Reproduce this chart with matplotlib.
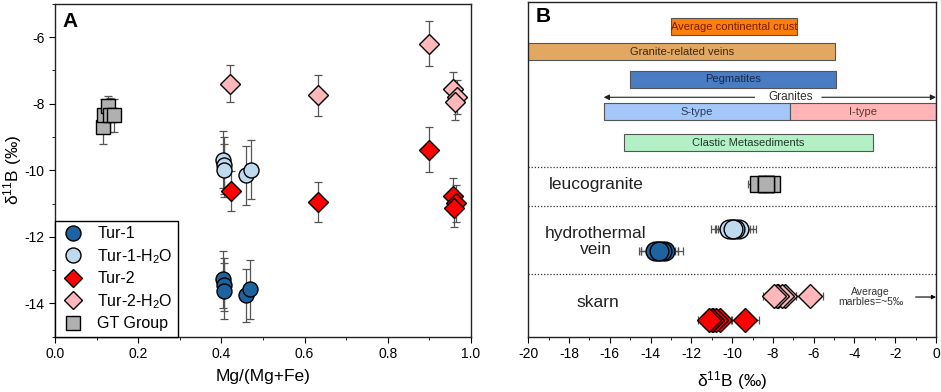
import matplotlib
matplotlib.use("Agg")
import matplotlib.pyplot as plt
from matplotlib.lines import Line2D

plt.rcParams['font.family'] = ['Liberation Sans', 'DejaVu Sans']
plt.rcParams['mathtext.fontset'] = 'custom'
plt.rcParams['mathtext.rm'] = 'Liberation Sans'
plt.rcParams['mathtext.it'] = 'Liberation Sans:italic'
plt.rcParams['mathtext.bf'] = 'Liberation Sans:bold'
plt.rcParams['axes.unicode_minus'] = False

# ---------------- data ----------------
tur1_x = [0.404, 0.407, 0.406, 0.459, 0.470]
tur1_y = [-13.28, -13.44, -13.63, -13.76, -13.58]
tur1_err = [0.85, 0.80, 0.85, 0.80, 0.90]

tur1h_x = [0.405, 0.406, 0.406, 0.460, 0.472]
tur1h_y = [-9.68, -9.85, -10.00, -10.15, -9.98]
tur1h_err = [0.85, 0.85, 0.80, 0.88, 0.88]

tur2_x = [0.423, 0.633, 0.899, 0.957, 0.963, 0.959]
tur2_y = [-10.62, -10.95, -9.38, -10.77, -10.99, -11.14]
tur2_err = [0.60, 0.60, 0.68, 0.55, 0.55, 0.55]

tur2h_x = [0.421, 0.633, 0.899, 0.957, 0.967, 0.962]
tur2h_y = [-7.40, -7.75, -6.20, -7.55, -7.80, -7.95]
tur2h_err = [0.55, 0.62, 0.68, 0.50, 0.50, 0.55]

gt_x = [0.116, 0.118, 0.127, 0.133, 0.142]
gt_y = [-8.71, -8.35, -8.06, -8.34, -8.35]
gt_err = [0.50, 0.50, 0.30, 0.50, 0.50]

range_labels = ["Average continental crust", "Granite-related veins", "Pegmatites",
                "S-type", "I-type", "Clastic Metasediments"]
range_lo = [-13.0, -20.5, -15.0, -16.3, -7.15, -15.3]
range_hi = [-6.8, -4.95, -4.9, -7.15, 0.0, -3.1]
range_colors = ["#fb7f0a", "#e2a862", "#4a7cc4", "#a3c7f8", "#ffb5b5", "#b4f0c6"]
range_text_colors = ["#7a1d00", "#3b2a15", "#1a2a4a", "#2b3b5a", "#5a3535", "#1f3a2a"]
range_rows = [25, 49.7, 77.3, 110, 110, 141]

granite_range = [-16.3, 0.0]

row_labels = ["leucogranite", "hydrothermal\nvein", "skarn"]

# colours
c_tur1 = "#1c63a0"
c_tur1h = "#bfd9ef"
c_tur2 = "#ff0000"
c_tur2h = "#ffb7ba"
c_gt = "#b0b0b0"
c_err = "#555555"

fig = plt.figure(figsize=(9.41, 3.92), dpi=100)

# ---------------- panel A ----------------
axA = fig.add_axes([0.0584, 0.141, 0.4421, 0.849])

series = [
    (gt_x, gt_y, gt_err, 's', c_gt, 10),
    (tur1_x, tur1_y, tur1_err, 'o', c_tur1, 10.8),
    (tur1h_x, tur1h_y, tur1h_err, 'o', c_tur1h, 10.8),
    (tur2h_x, tur2h_y, tur2h_err, 'D', c_tur2h, 9.8),
    (tur2_x, tur2_y, tur2_err, 'D', c_tur2, 9.8),
]
for xs, ys, es, m, c, ms in series:
    axA.errorbar(xs, ys, yerr=es, fmt='none', ecolor=c_err, elinewidth=0.9,
                 capsize=3, capthick=0.9, zorder=2)
for xs, ys, es, m, c, ms in series:
    axA.plot(xs, ys, linestyle='none', marker=m, markersize=ms,
             markerfacecolor=c, markeredgecolor='black', markeredgewidth=1.0, zorder=3)

axA.set_xlim(0, 1.0)
axA.set_ylim(-15, -5.05)
axA.set_xticks([0.0, 0.2, 0.4, 0.6, 0.8, 1.0])
axA.set_xticks([0.1, 0.3, 0.5, 0.7, 0.9], minor=True)
axA.set_xticklabels(["0.0", "0.2", "0.4", "0.6", "0.8", "1.0"])
axA.set_yticks([-14, -12, -10, -8, -6])
axA.set_yticks([-15, -13, -11, -9, -7, -5], minor=True)
axA.tick_params(which='both', direction='out', labelsize=10)
axA.tick_params(which='major', length=4)
axA.tick_params(which='minor', length=2.5)
axA.set_xlabel("Mg/(Mg+Fe)", fontsize=12.5, labelpad=6)
axA.set_ylabel(r"δ$^{11}$B (‰)", fontsize=12.5, va='center')
axA.yaxis.set_label_coords(-0.102, 0.5)
axA.text(0.018, 0.975, "A", transform=axA.transAxes, fontsize=15,
         fontweight='bold', ha='left', va='top')

handles = [
    Line2D([], [], linestyle='none', marker='o', markersize=10.8, markerfacecolor=c_tur1, markeredgecolor='black'),
    Line2D([], [], linestyle='none', marker='o', markersize=10.8, markerfacecolor=c_tur1h, markeredgecolor='black'),
    Line2D([], [], linestyle='none', marker='D', markersize=9.5, markerfacecolor=c_tur2, markeredgecolor='black'),
    Line2D([], [], linestyle='none', marker='D', markersize=9.5, markerfacecolor=c_tur2h, markeredgecolor='black'),
    Line2D([], [], linestyle='none', marker='s', markersize=10, markerfacecolor=c_gt, markeredgecolor='black'),
]
labels = ["Tur-1", "Tur-1-H$_2$O", "Tur-2", "Tur-2-H$_2$O", "GT Group"]
leg = axA.legend(handles, labels, loc='lower left', borderaxespad=0, fontsize=11.5,
                 frameon=True, fancybox=False, edgecolor='black', framealpha=1,
                 handletextpad=0.8, labelspacing=0.35, borderpad=0.35, handlelength=1.5)
leg.get_frame().set_linewidth(1.0)

# ---------------- panel B ----------------
axB = fig.add_axes([0.5614, 0.141, 0.4333, 0.854])
axB.set_xlim(-20, 0)
axB.set_ylim(334.7, 0)

bar_h = 17
for lab, lo, hi, col, tc, yy in zip(range_labels, range_lo, range_hi, range_colors,
                                     range_text_colors, range_rows):
    axB.barh(yy, hi - lo, left=lo, height=bar_h, color=col, edgecolor='#555555',
             linewidth=0.8, zorder=2)
    axB.text((max(lo, -20) + hi) / 2, yy, lab, ha='center', va='center',
             fontsize=8, color=tc, zorder=3)

# Granites arrows
gy = 95.3
gmid = -7.15
axB.text(gmid, gy, "Granites", ha='center', va='center', fontsize=8.5, color='#333333')
axB.annotate("", xy=(granite_range[0], gy), xytext=(gmid - 1.75, gy),
             arrowprops=dict(arrowstyle='-|>', color='#222222', lw=0.8,
                             shrinkA=0, shrinkB=0, mutation_scale=8))
axB.annotate("", xy=(granite_range[1], gy), xytext=(gmid + 1.55, gy),
             arrowprops=dict(arrowstyle='-|>', color='#222222', lw=0.8,
                             shrinkA=0, shrinkB=0, mutation_scale=8))

# dotted separators
for yy in [164.7, 204, 272]:
    axB.axhline(yy, color='#333333', linestyle=(0, (1, 1.5)), linewidth=0.9, zorder=1)

# row labels
axB.text(-19.0, 183, row_labels[0], ha='left', va='center', fontsize=12.5, color='#222222')
axB.text(-16.7, 239.3, row_labels[1], ha='center', va='center', fontsize=12.5,
         color='#222222', linespacing=1.05)
axB.text(-16.6, 300.7, row_labels[2], ha='center', va='center', fontsize=12.5, color='#222222')

rowsB = [
    (gt_y, gt_err, 's', c_gt, 11.5, 182),
    (tur1h_y, tur1h_err, 'o', c_tur1h, 13.5, 227.3),
    (tur1_y, tur1_err, 'o', c_tur1, 13.5, 248.7),
    (tur2h_y, tur2h_err, 'D', c_tur2h, 12.5, 294),
    (tur2_y, tur2_err, 'D', c_tur2, 12.5, 318),
]
for vals, errs, m, c, ms, yy in rowsB:
    ys = [yy] * len(vals)
    axB.errorbar(vals, ys, xerr=errs, fmt='none', ecolor=c_err, elinewidth=0.9,
                 capsize=3, capthick=0.9, zorder=2)
for vals, errs, m, c, ms, yy in rowsB:
    ys = [yy] * len(vals)
    axB.plot(vals, ys, linestyle='none', marker=m, markersize=ms,
             markerfacecolor=c, markeredgecolor='black', markeredgewidth=1.0, zorder=3)

# marbles annotation
axB.text(-3.2, 295, "Average\nmarbles=~5‰", ha='center', va='center', fontsize=7.5,
         color='#333333', linespacing=1.0)
axB.annotate("", xy=(0, 295), xytext=(-1.0, 295),
             arrowprops=dict(arrowstyle='-|>', color='black', lw=0.8,
                             shrinkA=0, shrinkB=0, mutation_scale=6))

axB.set_xticks(list(range(-20, 1, 2)))
axB.set_xticks(list(range(-19, 0, 2)), minor=True)
axB.set_yticks([])
axB.tick_params(which='both', direction='out', labelsize=10)
axB.tick_params(which='major', length=4)
axB.tick_params(which='minor', length=2.5)
axB.set_xlabel(r"δ$^{11}$B (‰)", fontsize=12.5, labelpad=6)
axB.text(0.018, 0.985, "B", transform=axB.transAxes, fontsize=15,
         fontweight='bold', ha='left', va='top')

for ax in (axA, axB):
    for s in ax.spines.values():
        s.set_linewidth(1.0)
        s.set_color('#222222')

fig.savefig("out.png", dpi=100)
